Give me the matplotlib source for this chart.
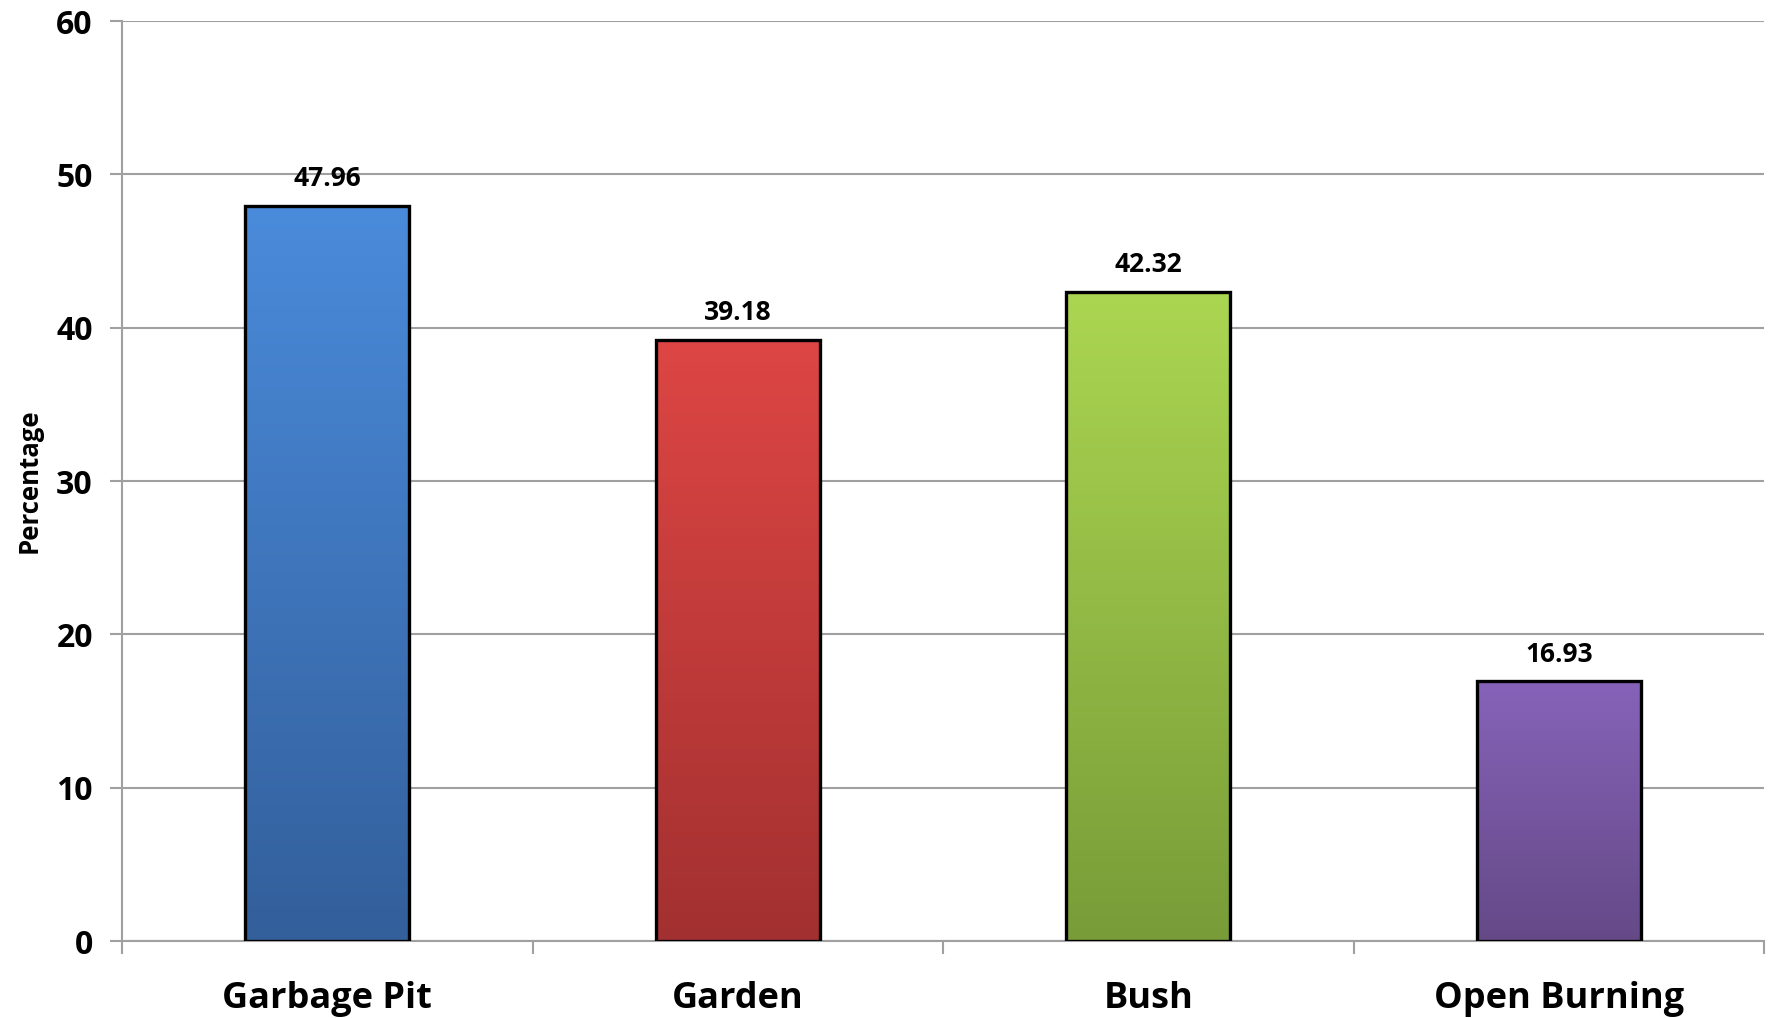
import matplotlib.pyplot as plt
import matplotlib.colors as mcolors
import numpy as np

categories = ['Garbage Pit', 'Garden', 'Bush', 'Open Burning']
values = [47.96, 39.18, 42.32, 16.93]
top_colors = ['#4a8bdb', '#dd4644', '#abd651', '#8663b9']
bottom_colors = ['#335f9b', '#a33030', '#789c38', '#654987']

plt.rcParams['font.family'] = ['Open Sans', 'DejaVu Sans']
plt.rcParams['font.weight'] = 'bold'

fig = plt.figure(figsize=(17.71, 10.18), dpi=100)
ax = fig.add_axes([122 / 1771, 1 - 941 / 1018, (1764 - 122) / 1771, (941 - 21) / 1018])

x = np.arange(len(categories))
width = 0.40
bars = ax.bar(x, values, width=width, color='none', edgecolor='black', linewidth=2.4, zorder=3)

# vertical gradient in every bar
for b, c1, c2 in zip(bars, top_colors, bottom_colors):
    cmap = mcolors.LinearSegmentedColormap.from_list('g', [c2, c1])
    grad = np.linspace(0, 1, 256).reshape(-1, 1)
    x0 = b.get_x()
    im = ax.imshow(grad, cmap=cmap, origin='lower', aspect='auto',
                   extent=[x0, x0 + b.get_width(), 0, b.get_height()], zorder=2)
    im.set_clip_path(b)

for xi, v in zip(x, values):
    ax.annotate(f'{v:.2f}', (xi, v), xytext=(0, 10), textcoords='offset points',
                ha='center', va='bottom', fontsize=19, fontweight='bold')

ax.set_xlim(-0.5, len(categories) - 0.5)
ax.set_ylim(0, 60)
ax.set_yticks(np.arange(0, 61, 10))
ax.yaxis.grid(True, color='#a0a0a0', linewidth=1.5, zorder=0)
ax.set_axisbelow(True)

ax.set_xticks(x)
ax.set_xticklabels(categories, fontsize=26, fontweight='bold')
ax.tick_params(axis='x', length=0, pad=29)
ax.set_xticks(np.arange(-0.5, len(categories)), minor=True)
ax.tick_params(axis='x', which='minor', length=9, width=1.5, color='#a0a0a0', direction='out')
ax.tick_params(axis='y', length=9, width=1.5, color='#a0a0a0', labelsize=23, pad=12)
for lbl in ax.get_yticklabels():
    lbl.set_fontweight('bold')

for s in ['top', 'right']:
    ax.spines[s].set_visible(False)
ax.spines['left'].set_color('#a0a0a0')
ax.spines['left'].set_linewidth(1.5)
ax.spines['bottom'].set_color('#a0a0a0')
ax.spines['bottom'].set_linewidth(1.5)

ax.set_ylabel('Percentage', fontsize=18.5, fontweight='bold', labelpad=10)

fig.savefig('out.png', dpi=100)
